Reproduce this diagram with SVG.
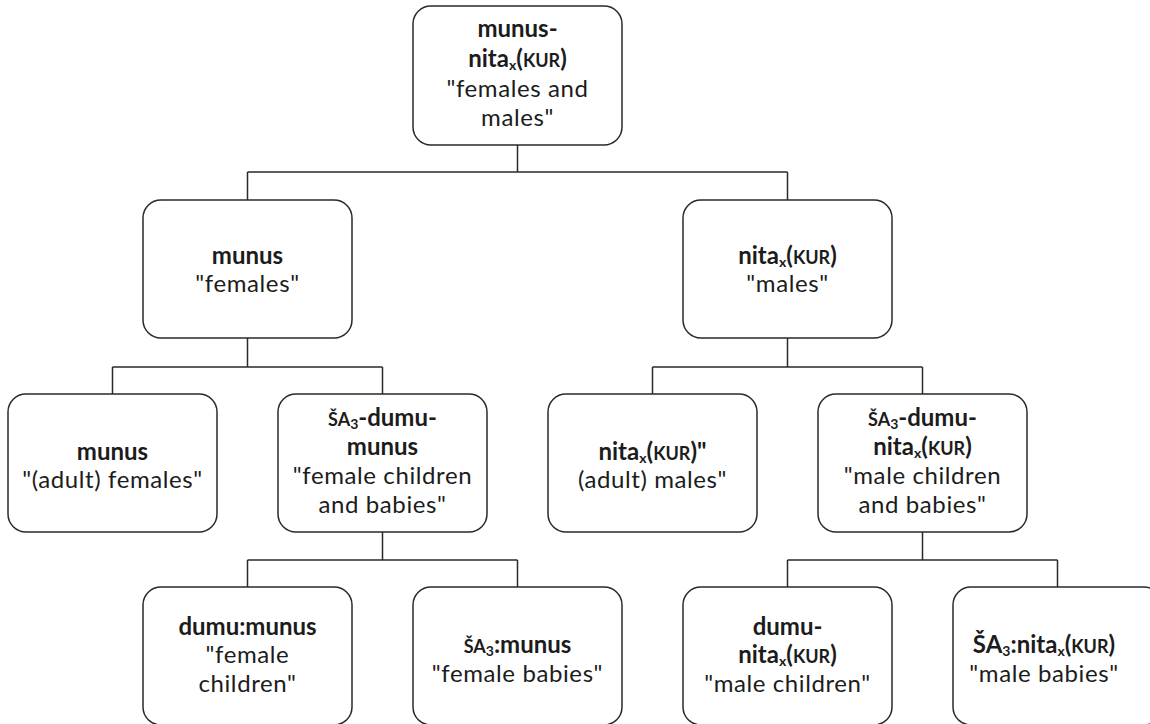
<svg xmlns="http://www.w3.org/2000/svg" width="1150" height="724" viewBox="0 0 1150 724">
<style>
.box{fill:#fff;stroke:#2a2a2a;stroke-width:1.5}
.con{fill:none;stroke:#2a2a2a;stroke-width:1.5}
text{font-family:Lato,"Open Sans","DejaVu Sans",sans-serif;font-size:24px;text-anchor:middle;fill:#1c1c1c;letter-spacing:0.6px}
.b{font-weight:bold;letter-spacing:0}
.sc{font-size:18px}
.sub{font-size:14px}
</style>
<rect width="1150" height="724" fill="#fff"/>
<g id="connectors">
<path class="con" d="M517.5 145V172M247.5 172H787.5M247.5 172V200M787.5 172V200"/>
<path class="con" d="M247.5 338V367M112.5 367H382.5M112.5 367V394M382.5 367V394"/>
<path class="con" d="M787.5 338V367M652.5 367H922.5M652.5 367V394M922.5 367V394"/>
<path class="con" d="M382.5 532V560M247.5 560H517.5M247.5 560V587M517.5 560V587"/>
<path class="con" d="M922.5 532V560M787.5 560H1057.5M787.5 560V587M1057.5 560V587"/>
</g>
<g id="n-root">
<rect class="box" x="413" y="6" width="209" height="139" rx="18"/>
<text x="517.5" y="37" class="b">munus-</text>
<text x="517.5" y="67" class="b">nita<tspan class="sub" baseline-shift="-3">x</tspan>(<tspan class="sc">KUR</tspan>)</text>
<text x="517.5" y="97">"females and</text>
<text x="517.5" y="126">males"</text>
</g>
<g id="n-females">
<rect class="box" x="143" y="200" width="209" height="138" rx="18"/>
<text x="247.5" y="264" class="b">munus</text>
<text x="247.5" y="292">"females"</text>
</g>
<g id="n-males">
<rect class="box" x="683" y="200" width="209" height="138" rx="18"/>
<text x="787.5" y="264" class="b">nita<tspan class="sub" baseline-shift="-3">x</tspan>(<tspan class="sc">KUR</tspan>)</text>
<text x="787.5" y="292">"males"</text>
</g>
<g id="n-adult-females">
<rect class="box" x="8" y="394" width="209" height="138" rx="18"/>
<text x="112.5" y="460" class="b">munus</text>
<text x="112.5" y="488">"(adult) females"</text>
</g>
<g id="n-female-children-babies">
<rect class="box" x="278" y="394" width="209" height="138" rx="18"/>
<text x="382.5" y="426" class="b"><tspan class="sc">ŠA</tspan><tspan class="sub" baseline-shift="-3">3</tspan>-dumu-</text>
<text x="382.5" y="455" class="b">munus</text>
<text x="382.5" y="484">"female children</text>
<text x="382.5" y="513">and babies"</text>
</g>
<g id="n-adult-males">
<rect class="box" x="548" y="394" width="209" height="138" rx="18"/>
<text x="652.5" y="460" class="b">nita<tspan class="sub" baseline-shift="-3">x</tspan>(<tspan class="sc">KUR</tspan>)"</text>
<text x="652.5" y="488">(adult) males"</text>
</g>
<g id="n-male-children-babies">
<rect class="box" x="818" y="394" width="209" height="138" rx="18"/>
<text x="922.5" y="426" class="b"><tspan class="sc">ŠA</tspan><tspan class="sub" baseline-shift="-3">3</tspan>-dumu-</text>
<text x="922.5" y="455" class="b">nita<tspan class="sub" baseline-shift="-3">x</tspan>(<tspan class="sc">KUR</tspan>)</text>
<text x="922.5" y="484">"male children</text>
<text x="922.5" y="513">and babies"</text>
</g>
<g id="n-female-children">
<rect class="box" x="143" y="587" width="209" height="138" rx="18"/>
<text x="247.5" y="635" class="b">dumu:munus</text>
<text x="247.5" y="663">"female</text>
<text x="247.5" y="692">children"</text>
</g>
<g id="n-female-babies">
<rect class="box" x="413" y="587" width="209" height="138" rx="18"/>
<text x="517.5" y="653" class="b"><tspan class="sc">ŠA</tspan><tspan class="sub" baseline-shift="-3">3</tspan>:munus</text>
<text x="517.5" y="682">"female babies"</text>
</g>
<g id="n-male-children">
<rect class="box" x="683" y="587" width="209" height="138" rx="18"/>
<text x="787.5" y="635" class="b">dumu-</text>
<text x="787.5" y="663" class="b">nita<tspan class="sub" baseline-shift="-3">x</tspan>(<tspan class="sc">KUR</tspan>)</text>
<text x="787.5" y="692">"male children"</text>
</g>
<g id="n-male-babies">
<rect class="box" x="953" y="587" width="209" height="138" rx="18"/>
<text x="1044" y="653" class="b">ŠA<tspan class="sub" baseline-shift="-3">3</tspan>:nita<tspan class="sub" baseline-shift="-3">x</tspan>(<tspan class="sc">KUR</tspan>)</text>
<text x="1044" y="682">"male babies"</text>
</g>
</svg>
